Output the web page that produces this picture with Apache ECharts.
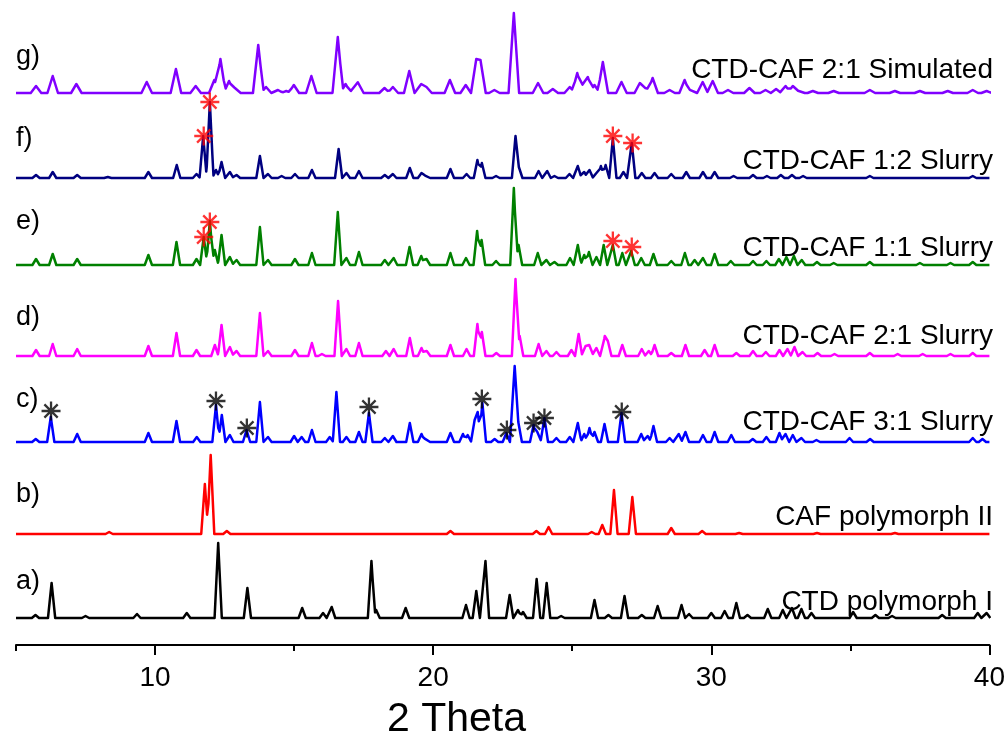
<!DOCTYPE html>
<html>
<head>
<meta charset="utf-8">
<script src="https://cdn.jsdelivr.net/npm/echarts@6/dist/echarts.min.js"></script>
<style>
  html, body { margin: 0; padding: 0; background: #fff; }
  #chart { width: 1008px; height: 742px; }
</style>
</head>
<body>
<div id="chart"></div>
<script>
// peak lists [2theta, intensity], one per pattern
const peaksA = [[5.7,3],[6.28,35],[7.5,2],[9.35,4],[11.14,5],[12.27,75],[13.32,30],[15.29,10],[16.04,5],[16.35,11],[17.78,57],[17.95,8],[19.01,10],[21.18,13],[21.55,27],[21.88,57],[22.75,23],[23.05,8],[23.23,6],[23.72,39],[24.08,35],[24.6,2],[25.8,18],[26.3,3],[26.88,22],[27.5,3],[28.07,12],[28.93,13],[29.2,4],[30.0,5],[30.48,7],[30.9,15],[31.3,3],[32.03,9],[32.57,8],[32.9,10],[33.24,9],[33.6,5],[35.1,6],[35.9,3],[36.5,2],[38.3,3],[39.58,5],[39.9,5]];
const peaksB = [[8.35,2],[11.79,50],[12.0,79],[12.58,3],[20.62,3],[23.71,3],[24.15,7],[25.7,2],[26.08,9],[26.5,44],[27.16,37],[28.56,6],[29.67,3],[31.0,1],[33.8,1],[36.6,1]];
const peaksC = [[5.71,3],[6.25,25],[7.2,8],[9.76,9],[10.77,21],[11.5,5],[12.19,37],[12.4,27],[12.69,7],[13.29,12],[13.77,40],[14.06,5],[15.0,6],[15.27,5],[15.64,12],[16.28,5],[16.52,50],[16.88,5],[17.33,10],[17.69,29],[18.26,4],[18.55,6],[19.16,19],[19.58,8],[19.76,5],[20.62,9],[21.07,8],[21.24,7],[21.49,22],[21.6,30],[21.77,39],[22.21,3],[22.63,9],[22.93,76],[23.06,20],[23.61,17],[23.76,12],[24.0,24],[24.43,4],[24.91,5],[25.2,19],[25.43,8],[25.62,14],[25.8,10],[26.16,18],[26.77,29],[27.48,8],[27.71,6],[27.92,16],[28.5,4],[28.83,8],[29.07,10],[29.7,7],[30.12,10],[30.72,7],[31.49,3],[31.98,5],[32.45,9],[32.67,8],[32.93,7],[33.24,4],[33.78,2],[34.97,4],[35.71,3],[39.4,4],[39.75,3]];
const peaksD = [[5.72,6],[6.32,12],[7.2,7],[9.76,10],[10.77,23],[11.49,6],[12.15,11],[12.39,31],[12.69,9],[12.93,5],[13.77,43],[14.06,5],[15.03,6],[15.64,13],[16.0,2],[16.58,55],[16.88,7],[17.33,13],[18.3,5],[18.58,7],[19.16,18],[19.58,8],[19.77,5],[20.62,11],[21.2,7],[21.59,32],[21.75,24],[22.27,3],[22.96,77],[23.11,20],[23.79,12],[24.07,5],[24.43,4],[24.97,6],[25.23,22],[25.48,10],[25.63,13],[25.87,8],[26.17,20],[26.28,15],[26.8,11],[27.5,7],[27.75,5],[27.96,11],[28.56,3],[29.07,11],[29.76,6],[30.12,11],[30.9,3],[31.5,5],[31.96,4],[32.45,6],[32.74,7],[32.99,9],[33.28,4],[33.82,3],[34.43,2],[35.7,3],[36.7,2],[37.6,2],[38.6,2],[39.4,3]];
const peaksE = [[5.72,6],[6.32,11],[7.2,6],[9.76,10],[10.77,23],[11.49,6],[11.75,28],[11.97,44],[12.15,15],[12.39,30],[12.69,8],[12.93,5],[13.77,38],[14.06,5],[15.03,6],[15.64,12],[16.57,53],[16.88,7],[17.33,13],[18.26,5],[18.58,7],[19.15,18],[19.57,9],[19.76,6],[20.62,12],[21.18,7],[21.58,34],[21.74,25],[22.26,4],[22.9,77],[23.07,20],[23.76,12],[24.07,5],[24.36,3],[24.92,7],[25.2,20],[25.43,10],[25.6,13],[25.87,8],[26.13,20],[26.46,20],[26.8,12],[27.12,14],[27.48,7],[27.92,11],[28.56,4],[29.05,12],[29.4,5],[29.7,7],[30.12,11],[30.7,4],[31.5,4],[31.98,4],[32.43,6],[32.7,8],[32.97,9],[33.25,5],[33.8,3],[34.4,2],[35.7,3],[37.5,2],[38.6,2],[39.4,3]];
const peaksF = [[5.72,3],[6.32,6],[7.2,3],[8.3,1],[9.76,6],[10.78,13],[11.49,4],[11.73,42],[11.97,76],[12.19,8],[12.39,16],[12.69,6],[12.93,3],[13.77,22],[14.06,4],[14.55,2],[15.03,4],[15.64,8],[16.6,29],[16.88,5],[17.33,7],[18.26,3],[18.55,4],[19.16,10],[19.58,5],[19.76,4],[20.62,9],[21.2,4],[21.59,18],[21.75,15],[22.26,2],[22.96,42],[23.08,11],[23.79,7],[24.1,7],[24.36,2],[24.9,4],[25.2,12],[25.43,6],[25.62,8],[25.87,5],[26.03,12],[26.2,13],[26.46,40],[26.84,6],[27.14,35],[27.5,5],[27.96,5],[28.56,4],[29.1,6],[29.7,6],[30.12,6],[30.8,2],[31.5,3],[32.0,2],[32.5,3],[32.9,3],[33.3,2],[35.7,2],[39.4,2]];
const peaksG = [[5.72,7],[6.32,17],[7.17,9],[9.7,11],[10.75,24],[11.46,7],[12.13,13],[12.35,34],[12.66,12],[12.89,7],[13.71,48],[13.99,6],[14.42,3],[14.72,2],[14.99,8],[15.62,17],[16.57,56],[16.85,9],[17.1,3],[17.31,12],[18.25,5],[18.55,6],[19.14,22],[19.57,9],[19.76,6],[20.6,13],[21.17,8],[21.55,34],[21.7,33],[22.2,3],[22.9,80],[23.77,10],[24.3,4],[24.91,6],[25.18,20],[25.4,10],[25.56,16],[25.8,8],[26.1,31],[26.77,11],[27.43,10],[27.65,6],[27.89,15],[28.5,3],[29.04,13],[29.3,5],[29.69,11],[30.05,12],[30.6,3],[31.37,5],[31.95,3],[32.33,4],[32.67,7],[32.93,7],[33.17,3],[33.65,2],[34.4,2],[35.7,3],[36.6,2],[37.5,2],[38.5,2],[39.4,3],[39.9,2]];

// marked reflections [2theta, intensity], same units as the pattern they sit on
const starsC = [[6.26,31],[12.19,41],[13.3,14],[17.69,35],[21.75,43],[22.65,12],[23.61,19],[24.0,24],[26.78,30]];
const starsE = [[11.75,28],[11.97,43],[26.46,24],[27.14,18]];
const starsF = [[11.75,42],[11.97,76],[26.46,42],[27.17,35]];

const tags = ['a)', 'b)', 'c)', 'd)', 'e)', 'f)', 'g)'];
const names = ['CTD polymorph I', 'CAF polymorph II', 'CTD-CAF 3:1 Slurry', 'CTD-CAF 2:1 Slurry', 'CTD-CAF 1:1 Slurry', 'CTD-CAF 1:2 Slurry', 'CTD-CAF 2:1 Simulated'];
const majorTicks = [10, 20, 30, 40];
const minorTicks = [5, 15, 25, 35];

// stacking and look
const patterns = [peaksA, peaksB, peaksC, peaksD, peaksE, peaksF, peaksG];
const offsets = [27, 111, 203, 289, 380, 467, 552];
const colors = ['#000000', '#ff0000', '#0000ff', '#ff00ff', '#008000', '#000080', '#8000ff'];
const widths = [0.13, 0.13, 0.13, 0.13, 0.13, 0.13, 0.19];
const tagY = [582, 495, 400, 318, 222, 139, 57];
const nameY = [603, 518, 423, 337, 249, 162, 71];
const FONT = 'Liberation Sans, Arial, sans-serif';

// narrow triangular profile around each peak so the pattern reads as a line
function profile(peaks, w, off) {
  const xs = [5, 40];
  peaks.forEach(([p]) => xs.push(p - w, p, p + w));
  xs.sort((a, b) => a - b);
  return xs.map(x => {
    let y = 0;
    peaks.forEach(([p, h]) => {
      const d = Math.abs(x - p);
      if (d < w) y = Math.max(y, h * (1 - d / w));
    });
    return [x, off + y];
  });
}

const starPath = 'path://M10,0L10,20M0,10L20,10M3,3L17,17M3,17L17,3';
function stars(list, off, color) {
  return {
    type: 'scatter',
    data: list.map(([x, y]) => [x, off + y]),
    symbol: starPath,
    symbolSize: 19,
    itemStyle: { color: 'none', borderColor: color, borderWidth: 2.3 },
    z: 5,
    silent: true
  };
}

const series = patterns.map((pk, i) => ({
  type: 'line',
  data: profile(pk, widths[i], offsets[i]),
  showSymbol: false,
  lineStyle: { color: colors[i], width: 2.5, join: 'round' },
  itemStyle: { color: colors[i] },
  silent: true
}));
series.push(stars(starsC, offsets[2], '#000000'));
series.push(stars(starsE, offsets[4], '#ff0000'));
series.push(stars(starsF, offsets[5], '#ff0000'));

const graphic = [];
tags.forEach((t, i) => {
  graphic.push({ type: 'text', left: 16, top: tagY[i] - 14,
    style: { text: t, font: '27px ' + FONT, fill: '#000' } });
  graphic.push({ type: 'text', right: 15, top: nameY[i] - 15,
    style: { text: names[i], font: '28px ' + FONT, fill: '#000', textAlign: 'right' } });
});
graphic.push({ type: 'text', left: 387, top: 699,
  style: { text: '2 Theta', font: '41px ' + FONT, fill: '#000' } });

const chart = echarts.init(document.getElementById('chart'), null, { renderer: 'canvas' });
chart.setOption({
  animation: false,
  backgroundColor: '#fff',
  grid: { left: 16, right: 18, top: 0, bottom: 97 },
  xAxis: [{
    type: 'value', min: 5, max: 40, position: 'bottom',
    axisLine: { show: true, lineStyle: { color: '#000', width: 2 } },
    axisTick: { show: true, customValues: majorTicks, length: 10, lineStyle: { color: '#000', width: 2 } },
    axisLabel: { customValues: majorTicks, fontSize: 28, color: '#000', fontFamily: FONT, margin: 19 },
    splitLine: { show: false }
  }, {
    type: 'value', min: 5, max: 40, position: 'bottom', offset: 0,
    axisLine: { show: false },
    axisTick: { show: true, customValues: minorTicks, length: 6, lineStyle: { color: '#000', width: 2 } },
    axisLabel: { show: false },
    splitLine: { show: false }
  }],
  yAxis: { type: 'value', min: 0, max: 645, show: false },
  series: series,
  graphic: graphic
});
</script>
</body>
</html>
